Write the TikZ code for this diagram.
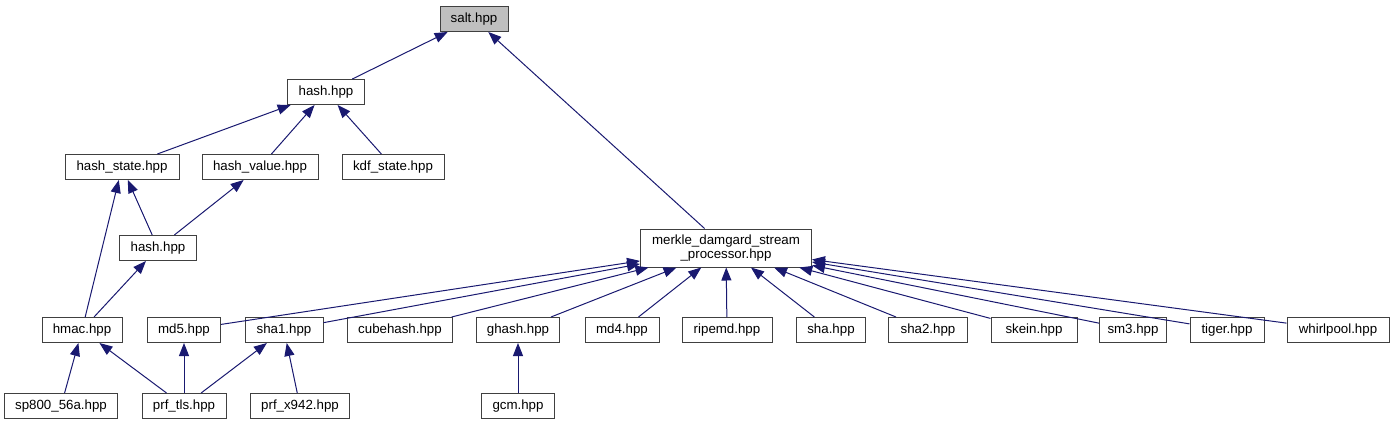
\documentclass[tikz,border=0pt]{standalone}
\usepackage{fontspec}
\setmainfont{Liberation Sans}
\usetikzlibrary{arrows.meta}
\definecolor{cedge}{HTML}{191970}
\definecolor{cframe}{HTML}{404040}
\definecolor{cfill}{HTML}{BFBFBF}
\tikzset{
  every picture/.style={font=\fontsize{13.3}{14.5}\selectfont, line width=1pt},
  file/.style={draw=cframe, fill=white, minimum width=#1, minimum height=25pt, inner sep=0pt, align=center},
  file/.default=80pt,
  dep/.style={-{Triangle[length=13pt, width=10pt]}, draw=cedge, line width=1pt},
}
\newcommand{\filerow}[2]{
  \foreach \n/\x/\w/\t in {#2} {
    \node[file=\w] (\n) at (\x,#1) {\t};
  }
}

\begin{document}
\begin{tikzpicture}[x=1pt, y=-1pt]
  \useasboundingbox (0,0) rectangle (1395,425);
  % top of the tree
  \node[file=68pt, fill=cfill] (salt) at (474,19) {salt.hpp};
  \node[file=77pt] (hash) at (326,92) {hash.hpp};
  \filerow{167}{hstate/122/114pt/hash\_state.hpp, hvalue/260/116pt/hash\_value.hpp, kdf/393/102pt/kdf\_state.hpp}
  \node[file=77pt] (hashb) at (158,248) {hash.hpp};
  \node[file=171pt, minimum height=38pt] (merkle) at (726,248) {merkle\_damgard\_stream\\\_processor.hpp};
  % includers of merkle
  \filerow{330}{hmac/82/80pt/hmac.hpp, md5/184/73pt/md5.hpp, sha1/284/78pt/sha1.hpp,
    cube/400/105pt/cubehash.hpp, ghash/518/83pt/ghash.hpp, md4/622/74pt/md4.hpp,
    ripemd/727/90pt/ripemd.hpp, sha/831/69pt/sha.hpp, sha2/928/79pt/sha2.hpp,
    skein/1034/86pt/skein.hpp, sm3/1133/67pt/sm3.hpp, tiger/1227/74pt/tiger.hpp,
    whirl/1338/102pt/whirlpool.hpp}
  % last row
  \filerow{406}{sp800/61/113pt/sp800\_56a.hpp, prftls/184/84pt/prf\_tls.hpp,
    prfx/300/99pt/prf\_x942.hpp, gcm/518/73pt/gcm.hpp}
  % edges
  \draw[dep] (hash) -- (salt);
  \draw[dep] (merkle) -- (salt);
  \foreach \n in {hstate, hvalue, kdf} \draw[dep] (\n) -- (hash);
  \draw[dep] (hashb) -- (hstate);
  \draw[dep] (hashb) -- (hvalue);
  \draw[dep] (hmac) -- (hstate);
  \draw[dep] (hmac) -- (hashb);
  \foreach \n in {md5, sha1, cube, ghash, md4, ripemd, sha, sha2, skein, sm3, tiger, whirl}
    \draw[dep] (\n) -- (merkle);
  \draw[dep] (sp800) -- (hmac);
  \draw[dep] (prftls) -- (hmac);
  \draw[dep] (prftls) -- (md5);
  \draw[dep] (prftls) -- (sha1);
  \draw[dep] (prfx) -- (sha1);
  \draw[dep] (gcm) -- (ghash);
\end{tikzpicture}
\end{document}
